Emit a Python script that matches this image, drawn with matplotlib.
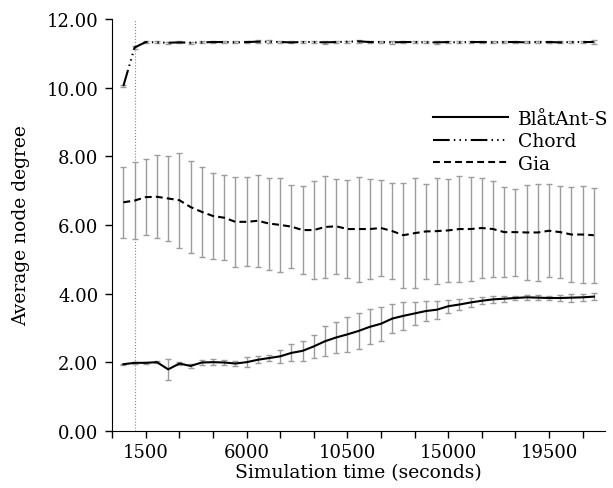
import numpy as np
import matplotlib
matplotlib.use("Agg")
import matplotlib.pyplot as plt
from matplotlib.ticker import MultipleLocator, FixedLocator, FormatStrFormatter

plt.rcParams['font.family'] = ['DejaVu Serif']

# sample times (seconds)
times = np.arange(500, 22000, 500)

# BlåtAnt-S mean degree and std
blatant_mean = [1.94, 1.98, 1.98, 2.00, 1.79, 1.96, 1.89, 1.99, 2.00, 1.99,
                1.96, 2.00, 2.07, 2.12, 2.17, 2.27, 2.33, 2.46, 2.61, 2.72,
                2.81, 2.91, 3.03, 3.12, 3.27, 3.35, 3.42, 3.49, 3.53, 3.63,
                3.68, 3.74, 3.79, 3.83, 3.85, 3.87, 3.89, 3.88, 3.87, 3.87,
                3.88, 3.89, 3.91]
blatant_std = [0.02, 0.02, 0.02, 0.02, 0.30, 0.05, 0.07, 0.06, 0.08, 0.08,
               0.07, 0.15, 0.10, 0.10, 0.19, 0.25, 0.29, 0.34, 0.44, 0.46,
               0.50, 0.53, 0.51, 0.50, 0.43, 0.40, 0.33, 0.29, 0.26, 0.19,
               0.17, 0.14, 0.10, 0.11, 0.09, 0.07, 0.07, 0.07, 0.07, 0.08,
               0.12, 0.10, 0.10]

# Chord mean degree and std
chord_mean = [10.05, 11.17, 11.33, 11.32, 11.31, 11.32, 11.31, 11.32, 11.33, 11.33,
              11.32, 11.33, 11.34, 11.34, 11.33, 11.32, 11.33, 11.33, 11.32, 11.33,
              11.34, 11.35, 11.33, 11.33, 11.32, 11.33, 11.33, 11.32, 11.32, 11.33,
              11.32, 11.33, 11.33, 11.32, 11.33, 11.33, 11.32, 11.33, 11.33, 11.32,
              11.33, 11.33, 11.33]
chord_std = [0.04, 0.04, 0.03, 0.03, 0.03, 0.03, 0.03, 0.03, 0.03, 0.03,
             0.03, 0.03, 0.04, 0.04, 0.03, 0.03, 0.03, 0.04, 0.04, 0.03,
             0.03, 0.04, 0.03, 0.03, 0.04, 0.03, 0.03, 0.03, 0.04, 0.03,
             0.03, 0.03, 0.03, 0.03, 0.03, 0.04, 0.03, 0.03, 0.03, 0.03,
             0.03, 0.03, 0.05]

# Gia mean degree and std
gia_mean = [6.66, 6.71, 6.81, 6.82, 6.77, 6.72, 6.52, 6.38, 6.26, 6.21,
            6.09, 6.09, 6.12, 6.04, 6.00, 5.95, 5.85, 5.85, 5.94, 5.96,
            5.88, 5.88, 5.88, 5.91, 5.82, 5.70, 5.76, 5.81, 5.82, 5.84,
            5.88, 5.88, 5.91, 5.88, 5.79, 5.79, 5.78, 5.78, 5.83, 5.79,
            5.72, 5.72, 5.70]
gia_std = [1.04, 1.13, 1.11, 1.21, 1.24, 1.39, 1.33, 1.32, 1.25, 1.24,
           1.32, 1.30, 1.34, 1.34, 1.36, 1.22, 1.28, 1.42, 1.50, 1.39,
           1.42, 1.53, 1.46, 1.40, 1.39, 1.53, 1.61, 1.38, 1.54, 1.51,
           1.55, 1.51, 1.47, 1.40, 1.32, 1.27, 1.38, 1.42, 1.36, 1.35,
           1.39, 1.42, 1.39]

fig = plt.figure(figsize=(6.13, 4.89), dpi=100)
ax = fig.add_axes([0.183, 0.117, 0.804, 0.842])

# grey error bars under the mean curves
err_kw = dict(fmt='none', ecolor='#9c9c9c', elinewidth=1.0, capsize=2.5, capthick=1.0, zorder=1)
ax.errorbar(times, blatant_mean, yerr=blatant_std, **err_kw)
ax.errorbar(times, chord_mean, yerr=chord_std, **err_kw)
ax.errorbar(times, gia_mean, yerr=gia_std, **err_kw)

ax.plot(times, blatant_mean, color='black', lw=1.5, label='BlåtAnt-S', zorder=3)
ax.plot(times, chord_mean, color='black', lw=1.5,
        linestyle=(0, (8, 2, 0.7, 2, 0.7, 2, 0.7, 2)), label='Chord', zorder=3)
ax.plot(times, gia_mean, color='black', lw=1.5, linestyle=(0, (3.3, 2)), label='Gia', zorder=3)

ax.axvline(1000, color='#888888', lw=0.8, linestyle=':', zorder=0)

ax.set_xlim(0, 22000)
ax.set_ylim(0, 12)
ax.xaxis.set_major_locator(FixedLocator([1500, 6000, 10500, 15000, 19500]))
ax.xaxis.set_minor_locator(MultipleLocator(1500))
ax.yaxis.set_major_locator(MultipleLocator(2))
ax.yaxis.set_major_formatter(FormatStrFormatter('%.2f'))
ax.tick_params(axis='both', which='both', direction='out', length=5, width=1, labelsize=13)
ax.tick_params(axis='y', pad=5)

for side in ['top', 'right']:
    ax.spines[side].set_visible(False)

ax.set_xlabel('Simulation time (seconds)', fontsize=13.5, labelpad=2)
ax.set_ylabel('Average node degree', fontsize=13.5, labelpad=12)

ax.legend(loc='upper left', bbox_to_anchor=(0.651, 0.78), frameon=False, fontsize=13.5,
          handlelength=4.0, handletextpad=0.55, labelspacing=0.25,
          borderpad=0, borderaxespad=0)

fig.savefig('out.png', dpi=100)
